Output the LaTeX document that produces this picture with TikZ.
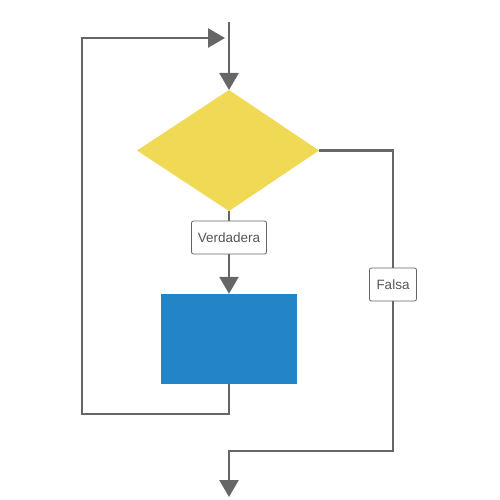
\documentclass[tikz,border=0pt]{standalone}
\usepackage{fontspec}
\setmainfont{Liberation Sans}
\usetikzlibrary{arrows.meta,shapes.geometric}
\definecolor{linegray}{HTML}{666666}
\definecolor{textgray}{HTML}{555555}
\definecolor{decyellow}{HTML}{EFD955}
\definecolor{procblue}{HTML}{2384C6}
\begin{document}
\begin{tikzpicture}[x=1pt,y=-1pt,
  flow/.style={draw=linegray,line width=2.6pt},
  arr/.style={flow,-{Triangle[width=19pt,length=17pt]}},
  tag/.style={draw=linegray,line width=0.8pt,fill=white,rounded corners=2pt,
    font=\fontsize{13.5}{15}\selectfont,text=textgray,inner sep=0pt,
    minimum height=33pt}]
  \useasboundingbox (0,0) rectangle (500,500);
  % shapes
  \fill[decyellow] (229,90) -- (319,150.5) -- (229,211) -- (137,150.5) -- cycle;
  \node[inner sep=0pt] (dec) at (229,150.5) {};
  \coordinate (decT) at (229,90);
  \coordinate (decB) at (229,211);
  \coordinate (decR) at (319,150.5);
  \node[fill=procblue,minimum width=136pt,minimum height=90pt,inner sep=0pt] (proc) at (229,339) {};
  % labels
  \node[tag,minimum width=75pt] (yes) at (229,237.5) {Verdadera};
  \node[tag,minimum width=47pt] (no) at (393,284.5) {Falsa};
  % loose ends
  \coordinate (start) at (229,22);
  \coordinate (finish) at (229,497);
  \coordinate (loopin) at (225,38);
  % connectors
  \draw[arr] (start) -- (decT);
  \draw[flow] (decB) -- (yes.north);
  \draw[arr] (yes.south) -- (proc.north);
  \draw[arr] (proc.south) |- (82,414) |- (loopin);
  \draw[flow] (decR) -| (no.north);
  \draw[arr] (no.south) |- (229,451) -- (finish);
\end{tikzpicture}
\end{document}
